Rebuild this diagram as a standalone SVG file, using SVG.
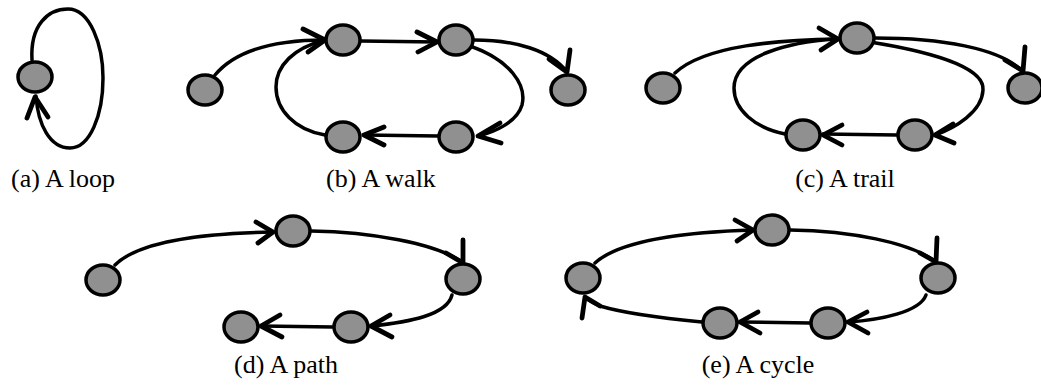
<svg xmlns="http://www.w3.org/2000/svg" width="1041" height="387" viewBox="0 0 1041 387">
<style>
.e{fill:none;stroke:#000;stroke-width:3.5;stroke-linecap:round;stroke-linejoin:round}
.h{fill:none;stroke:#000;stroke-width:4.8;stroke-linecap:round;stroke-linejoin:round}
.n{fill:#909090;stroke:#000;stroke-width:3.5}
.t{font-family:"Liberation Serif","Times New Roman",serif;font-size:26px;fill:#000;text-anchor:middle}
</style>
<rect width="1041" height="387" fill="#fff"/>
<g id="connectors">
<!-- (a) -->
<path class="e" d="M32 60 C30 25 48 9 68 9 C90 9 103 45 103 78 C103 115 90 148 70 148 C50 148 38 125 36 96"/>
<polyline class="h" points="27,118 35,97 48,117"/>
<!-- (b) -->
<path class="e" d="M215 75 C240 45 290 40 325 40"/>
<polyline class="h" points="303,29 325,40 308,52"/>
<path class="e" d="M361 41 L437 42"/>
<polyline class="h" points="417,32 437,42 418,52"/>
<path class="e" d="M474 40 C515 40 550 50 567 72"/>
<polyline class="h" points="549,59 567,72 570,50"/>
<path class="e" d="M470 46 C510 60 527 85 522 105 C517 122 495 132 478 136"/>
<polyline class="h" points="500,123 478,136 501,143"/>
<path class="e" d="M438 136 L364 135"/>
<polyline class="h" points="384,127 364,135 384,145"/>
<path class="e" d="M325 135 C295 130 276 110 276 87 C276 65 295 48 322 41"/>
<!-- (c) -->
<path class="e" d="M675 73 C705 45 780 40 838 39"/>
<polyline class="h" points="819,28 838,39 821,50"/>
<path class="e" d="M875 38 C940 38 1000 48 1022 71"/>
<polyline class="h" points="1005,60 1023,71 1025,47"/>
<path class="e" d="M870 42 C920 50 985 65 983 90 C982 112 955 128 935 135"/>
<polyline class="h" points="953,124 935,135 954,143"/>
<path class="e" d="M897 135 L823 134"/>
<polyline class="h" points="842,125 823,135 842,145"/>
<path class="e" d="M785 134 C755 128 734 110 734 88 C734 55 790 42 836 39"/>
<!-- (d) -->
<path class="e" d="M115 265 C140 240 210 233 273 232"/>
<polyline class="h" points="256,222 273,232 258,243"/>
<path class="e" d="M311 231 C370 232 435 243 462 262"/>
<polyline class="h" points="446,253 463,263 463,240"/>
<path class="e" d="M452 295 C447 315 410 322 371 326"/>
<polyline class="h" points="390,315 371,326 392,337"/>
<path class="e" d="M333 327 L261 326"/>
<polyline class="h" points="280,315 261,326 282,337"/>
<!-- (e) -->
<path class="e" d="M595 263 C620 240 690 232 753 230"/>
<polyline class="h" points="735,220 753,230 737,241"/>
<path class="e" d="M790 230 C850 231 910 242 936 262"/>
<polyline class="h" points="920,253 936,262 937,238"/>
<path class="e" d="M926 295 C920 312 880 320 848 322"/>
<polyline class="h" points="867,312 848,322 868,333"/>
<path class="e" d="M810 323 L740 322"/>
<polyline class="h" points="758,312 740,322 760,333"/>
<path class="e" d="M702 322 C660 318 620 312 600 306 C593 303 588 300 585 297"/>
<polyline class="h" points="600,306 585,297 582,318"/>
</g>
<g id="node-a1"><ellipse class="n" cx="35" cy="77" rx="17" ry="15"/></g>
<g id="node-b1"><ellipse class="n" cx="205" cy="90" rx="17" ry="15"/></g>
<g id="node-b2"><ellipse class="n" cx="343" cy="40" rx="17" ry="15"/></g>
<g id="node-b3"><ellipse class="n" cx="456" cy="40" rx="17" ry="15"/></g>
<g id="node-b4"><ellipse class="n" cx="568" cy="90" rx="17" ry="15"/></g>
<g id="node-b5"><ellipse class="n" cx="456" cy="137" rx="17" ry="15"/></g>
<g id="node-b6"><ellipse class="n" cx="343" cy="137" rx="17" ry="15"/></g>
<g id="node-c1"><ellipse class="n" cx="663" cy="88" rx="17" ry="15"/></g>
<g id="node-c2"><ellipse class="n" cx="857" cy="38" rx="17" ry="15"/></g>
<g id="node-c3"><ellipse class="n" cx="1025" cy="88" rx="17" ry="15"/></g>
<g id="node-c4"><ellipse class="n" cx="915" cy="135" rx="17" ry="15"/></g>
<g id="node-c5"><ellipse class="n" cx="803" cy="135" rx="17" ry="15"/></g>
<g id="node-d1"><ellipse class="n" cx="103" cy="280" rx="17" ry="15"/></g>
<g id="node-d2"><ellipse class="n" cx="293" cy="231" rx="17" ry="15"/></g>
<g id="node-d3"><ellipse class="n" cx="463" cy="279" rx="17" ry="15"/></g>
<g id="node-d4"><ellipse class="n" cx="351" cy="327" rx="17" ry="15"/></g>
<g id="node-d5"><ellipse class="n" cx="241" cy="327" rx="17" ry="15"/></g>
<g id="node-e1"><ellipse class="n" cx="583" cy="278" rx="17" ry="15"/></g>
<g id="node-e2"><ellipse class="n" cx="772" cy="230" rx="17" ry="15"/></g>
<g id="node-e3"><ellipse class="n" cx="938" cy="278" rx="17" ry="15"/></g>
<g id="node-e4"><ellipse class="n" cx="828" cy="323" rx="17" ry="15"/></g>
<g id="node-e5"><ellipse class="n" cx="720" cy="323" rx="17" ry="15"/></g>
<g id="labels">
<text class="t" x="63" y="187">(a) A loop</text>
<text class="t" x="381" y="187">(b) A walk</text>
<text class="t" x="845" y="187">(c) A trail</text>
<text class="t" x="286" y="373">(d) A path</text>
<text class="t" x="758" y="373">(e) A cycle</text>
</g>
</svg>
